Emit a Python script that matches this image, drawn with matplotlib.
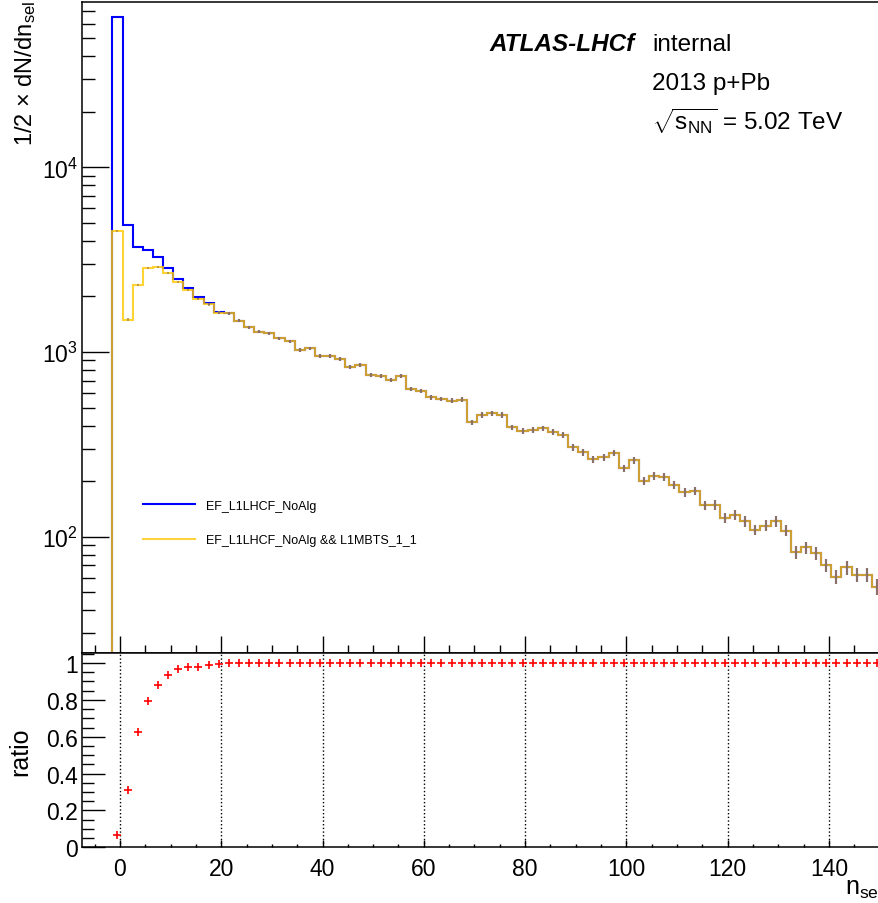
import numpy as np
import matplotlib.pyplot as plt
from matplotlib.lines import Line2D
from matplotlib.ticker import MultipleLocator, LogLocator, NullFormatter, FuncFormatter

plt.rcParams['font.family'] = ['Liberation Sans', 'DejaVu Sans']
plt.rcParams['mathtext.fontset'] = 'custom'
plt.rcParams['mathtext.rm'] = 'Liberation Sans'
plt.rcParams['mathtext.it'] = 'Liberation Sans:italic'
plt.rcParams['mathtext.bf'] = 'Liberation Sans:bold'
plt.rcParams['mathtext.sf'] = 'Liberation Sans'

# histogram binning: width 2, first bin starts at -1.5
bin_start = -1.5
bin_width = 2

# EF_L1LHCF_NoAlg (1/2 x dN/dn_sel per bin)
noalg = [65400, 4853, 3690, 3582, 3283, 2860, 2483, 2221, 1977, 1835,
         1640, 1620, 1477, 1361, 1288, 1262, 1185, 1143, 1029, 1047,
         955, 955, 916, 826, 853, 751, 739, 708, 744, 630,
         617, 568, 557, 545, 552, 416, 456, 467, 456, 391,
         375, 380, 386, 368, 355, 305, 286, 263, 270, 284,
         235, 260, 201, 214, 211, 191, 174, 177, 148, 149,
         127, 131, 121, 109, 115, 121, 108, 82.3, 87.6, 81.6,
         70.3, 60.7, 68.3, 62.2, 62.2, 53.6]

# EF_L1LHCF_NoAlg && L1MBTS_1_1, first bins (afterwards identical to noalg)
mbts_low = [4540, 1496, 2305, 2840, 2884, 2666, 2400, 2174, 1936, 1812, 1633]

labels = ['EF_L1LHCF_NoAlg', 'EF_L1LHCF_NoAlg && L1MBTS_1_1']

noalg = np.array(noalg, dtype=float)
mbts = np.concatenate([mbts_low, noalg[len(mbts_low):]])
edges = bin_start + bin_width * np.arange(len(noalg) + 1)
centers = 0.5 * (edges[:-1] + edges[1:])
ratio = mbts / noalg
# poisson errors on 1/2 x counts
noalg_err = np.sqrt(2 * noalg) / 2
mbts_err = np.sqrt(2 * mbts) / 2

W, H = 879, 904
fig = plt.figure(figsize=(W / 100, H / 100), dpi=100)
x0, wd = 82 / W, 800 / W
ax = fig.add_axes([x0, (H - 654.3) / H, wd, (654.3 - 3) / H])
ax2 = fig.add_axes([x0, (H - 848.3) / H, wd, (848.3 - 654.3) / H])

blue = '#0000ff'
gold = '#ffc800'

ax.stairs(noalg, edges, baseline=1, color=blue, lw=1.5)
ax.errorbar(centers, noalg, yerr=noalg_err, fmt='none', ecolor=blue, elinewidth=1.5)
ax.stairs(mbts, edges, baseline=1, color=gold, lw=1.5, alpha=0.8)
ax.errorbar(centers, mbts, yerr=mbts_err, fmt='none', ecolor='#b09040', elinewidth=1.5, alpha=0.8)

ax.set_yscale('log')
ax.set_xlim(-7.5, 150.5)
ax.set_ylim(23.4, 78500)
ax.xaxis.set_major_locator(MultipleLocator(20))
ax.xaxis.set_minor_locator(MultipleLocator(5))
ax.yaxis.set_major_locator(LogLocator(base=10, numticks=10))
ax.yaxis.set_minor_locator(LogLocator(base=10, subs=np.arange(2, 10), numticks=20))
ax.yaxis.set_minor_formatter(NullFormatter())
ax.tick_params(axis='x', which='both', direction='in', labelbottom=False, top=False, width=1)
ax.tick_params(axis='x', which='major', length=12)
ax.tick_params(axis='x', which='minor', length=6)
ax.tick_params(axis='y', which='both', direction='in', right=False, width=1)
ax.tick_params(axis='y', which='major', length=19.5, labelsize=16.5, pad=3)
ax.tick_params(axis='y', which='minor', length=9.5)

handles = [Line2D([], [], color=blue, lw=1.5), Line2D([], [], color='#ffd23c', lw=1.5)]
ax.legend(handles, labels, loc='center left', bbox_to_anchor=(143 / W, 1 - 524 / H),
          bbox_transform=fig.transFigure, frameon=False, borderpad=0, borderaxespad=0,
          fontsize=9, handlelength=4.16, handletextpad=0.88, labelspacing=1.8)

# ratio panel
ax2.plot(centers, ratio, '+', color='red', ms=5.5, mew=1.2)
ax2.set_xlim(-7.5, 150.5)
ax2.set_ylim(0, 1.0526)
ax2.xaxis.set_major_locator(MultipleLocator(20))
ax2.xaxis.set_minor_locator(MultipleLocator(5))
ax2.yaxis.set_major_locator(MultipleLocator(0.2))
ax2.yaxis.set_minor_locator(MultipleLocator(0.05))
ax2.yaxis.set_major_formatter(FuncFormatter(lambda v, p: f'{v:g}'))
ax2.grid(True, axis='x', which='major', ls=':', color='k', lw=1)
ax2.tick_params(axis='both', which='both', direction='in', top=False, right=False, width=1)
ax2.tick_params(axis='x', which='major', length=5, labelsize=16.5, pad=7)
ax2.tick_params(axis='x', which='minor', length=2.5)
ax2.tick_params(axis='y', which='major', length=16.5, labelsize=16.5, pad=3)
ax2.tick_params(axis='y', which='minor', length=8.5)

for a in (ax, ax2):
    for s in a.spines.values():
        s.set_linewidth(1.1)

# labels and annotations
fig.text(26 / W, 1 - 1 / H, r'1/2 $\times$ dN/dn$_{\mathrm{sel}}$', rotation=90,
         ha='center', va='top', fontsize=17)
fig.text(20 / W, 1 - 752 / H, 'ratio', rotation=90, ha='center', va='center', fontsize=18)
fig.text(882 / W, 1 - 895 / H, r'n$_{\mathrm{sel}}$', ha='right', va='baseline', fontsize=18)

fig.text(490 / W, 1 - 51 / H, 'ATLAS-LHCf', fontsize=17.5, fontweight='bold',
         fontstyle='italic', va='baseline')
fig.text(652 / W, 1 - 51 / H, 'internal', fontsize=17.5, va='baseline')
fig.text(652 / W, 1 - 90 / H, '2013 p+Pb', fontsize=17.5, va='baseline')
fig.text(652 / W, 1 - 130 / H, r'$\sqrt{\mathrm{s}_{\mathrm{NN}}}$ = 5.02 TeV', fontsize=17.5, va='baseline')

fig.savefig('out.png', dpi=100)
